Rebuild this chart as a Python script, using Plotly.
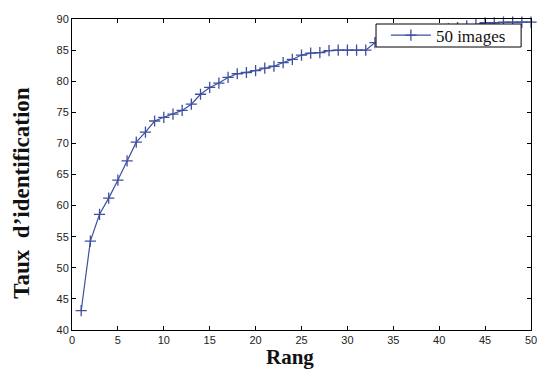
import plotly.graph_objects as go

rang = list(range(1, 51))
taux = [43.1, 54.3, 58.6, 61.2, 64.1, 67.2, 70.2, 71.8, 73.6, 74.2,
        74.7, 75.3, 76.3, 77.9, 79.0, 79.7, 80.6, 81.2, 81.4, 81.7,
        82.1, 82.4, 83.0, 83.5, 84.2, 84.5, 84.6, 84.9, 85.0, 85.0,
        85.0, 85.0, 86.2, 86.5, 86.8, 87.1, 87.4, 87.6, 87.9, 88.1,
        88.4, 88.6, 88.9, 89.1, 89.4, 89.4, 89.5, 89.5, 89.5, 89.5]
series_name = "50 images"
x_ticks = [0, 5, 10, 15, 20, 25, 30, 35, 40, 45, 50]
y_ticks = [40, 45, 50, 55, 60, 65, 70, 75, 80, 85, 90]
x_title = "Rang"
y_title = "Taux  d’identification"

W, H = 539, 370
ML, MR, MT, MB = 72, 2, 19, 40
PW, PH = W - ML - MR, H - MT - MB

def px_x(p):
    return (p - ML) / PW

def px_y(p):
    return (H - MB - p) / PH

blue = "#3d4f9f"
serif = "Liberation Serif, Times New Roman, serif"

fig = go.Figure()
fig.add_trace(go.Scatter(
    x=rang, y=taux, mode="lines+markers", name=series_name,
    line=dict(color=blue, width=1.2),
    marker=dict(symbol="cross-thin", size=8, line=dict(color=blue, width=1.3)),
    cliponaxis=False,
))

axis_common = dict(
    showline=True, linecolor="black", linewidth=1, mirror="ticks",
    ticks="inside", ticklen=4, tickcolor="black", showgrid=False, zeroline=False,
    ticklabeloverflow="allow",
    tickfont=dict(family="Arial, Liberation Sans, sans-serif", size=11, color="#222"),
)

# legend frame
fig.add_shape(type="rect", xref="paper", yref="paper",
              x0=px_x(380), x1=px_x(527), y0=px_y(47), y1=px_y(24),
              fillcolor="white", line=dict(color="black", width=1), layer="above")

fig.add_annotation(text=x_title, xref="paper", yref="paper", x=px_x(293), y=px_y(370),
                   showarrow=False, xanchor="center", yanchor="bottom", borderpad=0,
                   font=dict(family=serif, size=21, color="#111", weight="bold"))
fig.add_annotation(text=y_title, xref="paper", yref="paper", x=px_x(20), y=px_y(193),
                   showarrow=False, xanchor="center", yanchor="middle", textangle=-90,
                   font=dict(family=serif, size=23, color="#111", weight="bold"))

fig.update_layout(
    width=W, height=H,
    margin=dict(l=ML, r=MR, t=MT, b=MB),
    paper_bgcolor="white", plot_bgcolor="white",
    xaxis=dict(range=[0, 50], tickvals=x_ticks, **axis_common),
    yaxis=dict(range=[40, 90], tickvals=y_ticks, **axis_common),
    showlegend=True,
    legend=dict(x=px_x(390), y=px_y(35.5), xanchor="left", yanchor="middle",
                bgcolor="rgba(0,0,0,0)", borderwidth=0,
                font=dict(family=serif, size=17, color="#111"),
                tracegroupgap=0, itemwidth=40),
)

fig.write_html("out.html")
